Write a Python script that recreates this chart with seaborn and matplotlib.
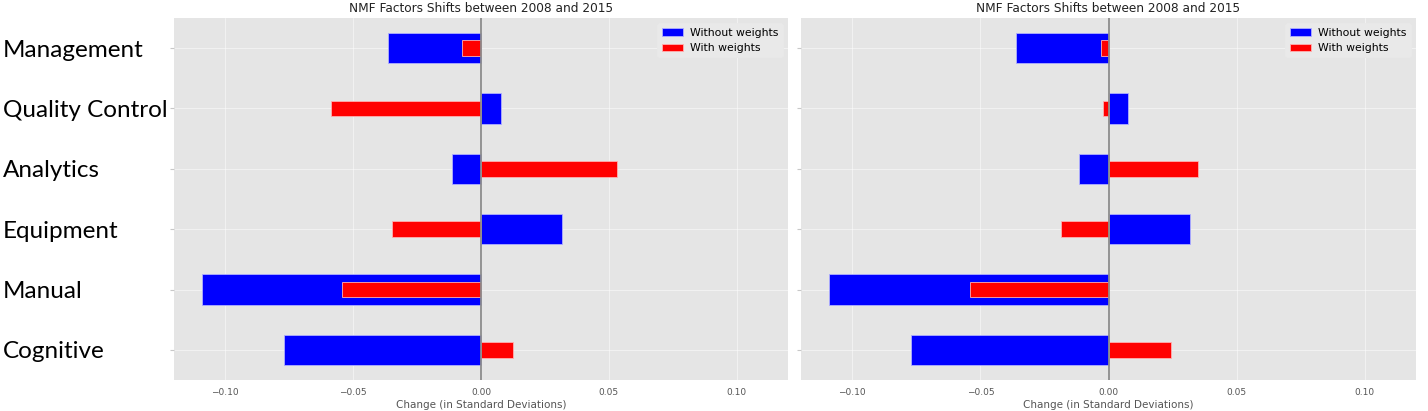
import matplotlib
matplotlib.use("Agg")
import matplotlib.pyplot as plt
import seaborn as sns
import pandas as pd

categories = ["Management", "Quality Control", "Analytics", "Equipment", "Manual", "Cognitive"]
without_weights = [-0.0362, 0.0078, -0.0115, 0.0318, -0.1092, -0.0771]
with_weights_left = [-0.0074, -0.0586, 0.0532, -0.0348, -0.0543, 0.0126]
with_weights_right = [-0.0028, -0.0022, 0.0350, -0.0185, -0.0541, 0.0244]
xticks = [-0.10, -0.05, 0.00, 0.05, 0.10]
title = "NMF Factors Shifts between 2008 and 2015"
xlabel = "Change (in Standard Deviations)"

plt.style.use("ggplot")
fig = plt.figure(figsize=(14.28, 4.11), dpi=100)
ax1 = fig.add_axes([174 / 1428, 1 - 380 / 411, 614 / 1428, 362 / 411])
ax2 = fig.add_axes([801 / 1428, 1 - 380 / 411, 615 / 1428, 362 / 411])

for ax, ww in [(ax1, with_weights_left), (ax2, with_weights_right)]:
    df_a = pd.DataFrame({"cat": categories, "val": without_weights})
    df_b = pd.DataFrame({"cat": categories, "val": ww})
    sns.barplot(data=df_a, x="val", y="cat", orient="h", color="#0000ff", saturation=1,
                width=0.5, edgecolor="#b0b0ff", linewidth=0.6, label="Without weights", ax=ax, errorbar=None)
    sns.barplot(data=df_b, x="val", y="cat", orient="h", color="#ff0000", saturation=1,
                width=0.26, edgecolor="#ffb0b0", linewidth=0.6, label="With weights", ax=ax, errorbar=None)
    ax.set_facecolor("#e5e5e5")
    ax.grid(True, color="white", linewidth=0.5, alpha=0.7)
    ax.set_axisbelow(True)
    ax.axvline(0, color="#8c8c8c", linewidth=1.3, zorder=3)
    ax.set_xlim(-0.12, 0.12)
    ax.set_ylim(5.5, -0.5)
    ax.set_xticks(xticks)
    ax.set_xticklabels(["\u22120.10", "\u22120.05", "0.00", "0.05", "0.10"])
    ax.tick_params(axis="x", labelsize=6.5, labelcolor="#555555", length=0, pad=6)
    ax.tick_params(axis="y", length=3, color="#c8c8c8")
    ax.set_title(title, fontsize=8.7, color="#222222", pad=4)
    ax.set_xlabel(xlabel, fontsize=7.5, color="#555555", labelpad=2)
    ax.set_ylabel("")
    leg = ax.legend(loc="upper right", fontsize=7.8, frameon=True, facecolor="#e9e9e9",
                    edgecolor="#e9e9e9", framealpha=1, handlelength=2.0, borderaxespad=0.5,
                    handletextpad=0.6)
    for sp in ax.spines.values():
        sp.set_visible(False)

ax2.set_yticklabels([])
ax1.set_yticks(range(len(categories)))
ax1.set_yticklabels(categories, fontsize=17.5, family="Lato", color="black")
ax1.tick_params(axis="y", pad=171 * 72 / 100 - 3)
for lbl in ax1.get_yticklabels():
    lbl.set_ha("left")

fig.savefig("out.png", dpi=100, facecolor="white")
